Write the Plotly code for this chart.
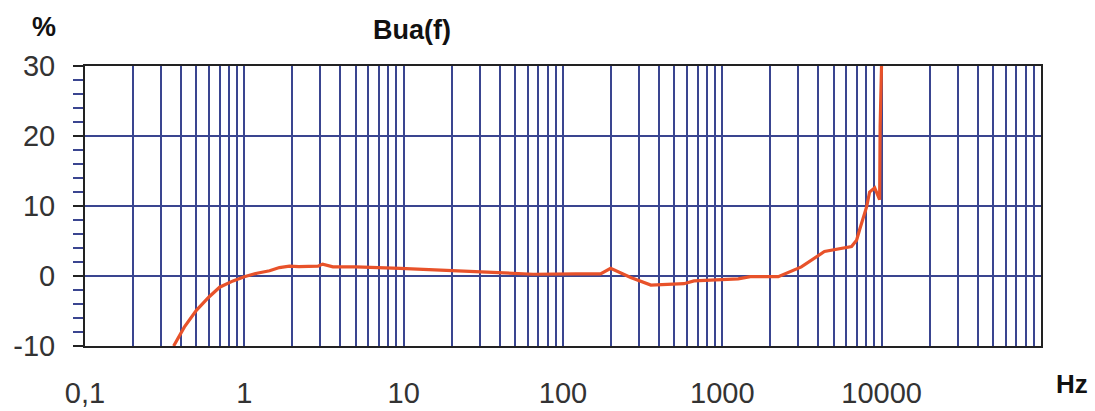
import plotly.graph_objects as go

freq = [0.36, 0.42, 0.5, 0.6, 0.7, 0.85, 1.0, 1.2, 1.44, 1.66, 1.92, 2.2, 2.9, 3.1, 3.6, 5.0, 9.5,
        17.7, 35, 65, 120, 172, 199, 266, 356, 574, 664, 1257, 1500, 2118, 2244, 3133, 4010,
        4375, 6470, 6960, 7270, 8050, 8400, 9040, 9710, 9750, 9730, 9780, 10000]
bua = [-10, -7.3, -4.9, -3.0, -1.6, -0.7, -0.1, 0.4, 0.75, 1.2, 1.4, 1.35, 1.4, 1.7, 1.3, 1.3, 1.1,
       0.8, 0.5, 0.25, 0.3, 0.3, 1.1, -0.2, -1.3, -1.1, -0.7, -0.4, -0.1, -0.1, -0.1, 1.3, 3.0,
       3.5, 4.2, 5.1, 6.6, 9.9, 12.0, 12.6, 10.9, 21.3, 11.5, 21.3, 31]

decades = [0.1, 1, 10, 100, 1000, 10000]
decade_labels = ["0,1", "1", "10", "100", "1000", "10000"]

grid_vals = []
grid_text = []
for d in [0.1, 1, 10, 100, 1000, 10000]:
    for m in range(1, 10):
        v = round(d * m, 6)
        grid_vals.append(v)
        grid_text.append(decade_labels[decades.index(d)] if m == 1 else "")

y_ticks = [-10, 0, 10, 20, 30]
y_labels = ["-10", "0", "10", "20", "30"]

GRID = "#3a4590"
FONT = "Liberation Sans, Arial, sans-serif"

L, R, T, B = 85, 54, 66, 65

fig = go.Figure()
fig.add_trace(go.Scatter(x=freq, y=bua, mode="lines",
                         line=dict(color="#e8522a", width=3.2), cliponaxis=True))

fig.update_layout(
    width=1095, height=411,
    margin=dict(l=L, r=R, t=T, b=B, autoexpand=False),
    paper_bgcolor="white", plot_bgcolor="white",
    showlegend=False,
    font=dict(family=FONT, size=29, color="#333333"),
    xaxis=dict(type="log", range=[-1, 5], tickvals=grid_vals, ticktext=grid_text,
               automargin=False,
               showgrid=True, gridcolor=GRID, gridwidth=2,
               showline=True, linecolor="#222222", linewidth=2, mirror=True,
               ticks="", ticklabelstandoff=20,
               tickfont=dict(size=29, color="#333333")),
    yaxis=dict(range=[-10, 30], tickvals=y_ticks, ticktext=y_labels,
               automargin=False,
               showgrid=True, gridcolor=GRID, gridwidth=2, zeroline=False,
               showline=True, linecolor="#222222", linewidth=2, mirror=True,
               ticks="outside", ticklen=10, tickcolor="#222222", tickwidth=2,
               ticklabelstandoff=12,
               minor=dict(dtick=2, ticks="outside", ticklen=10, tickcolor="#3a4590",
                          tickwidth=2, showgrid=False),
               tickfont=dict(size=29, color="#333333")),
)

pw = 1095 - L - R
ph = 411 - T - B
def ann(text, px, py, size):
    fig.add_annotation(text=text, x=(px - L) / pw, y=1 - (py - T) / ph,
                       xref="paper", yref="paper", showarrow=False,
                       xanchor="center", yanchor="middle",
                       font=dict(size=size, color="#111111", family=FONT))

ann("<b>%</b>", 44, 27, 27)
ann("<b>Bua(f)</b>", 412, 30, 27)
ann("<b>Hz</b>", 1072, 384, 26)

fig.write_html("out.html", config={"displayModeBar": False},
               post_script="document.body.style.margin='0';document.body.style.overflow='hidden';")
